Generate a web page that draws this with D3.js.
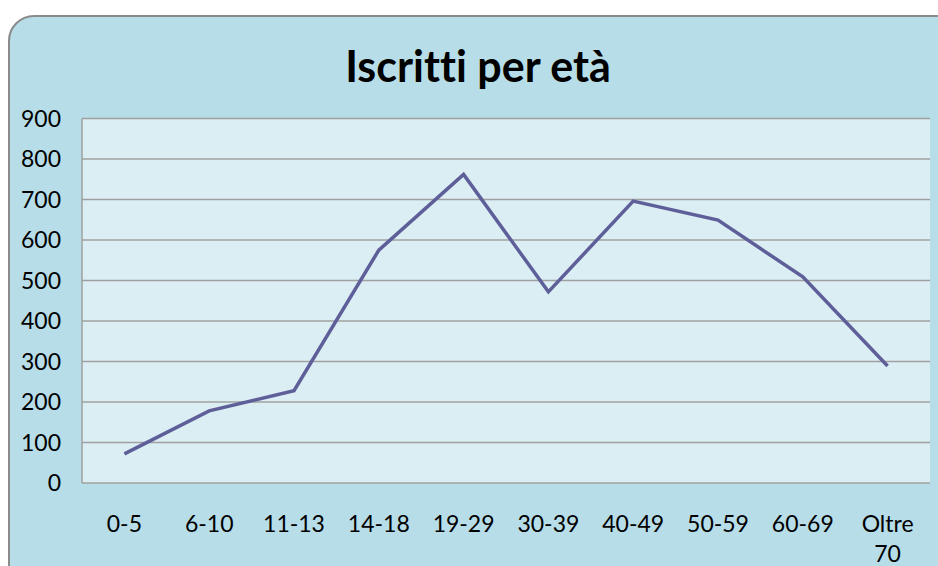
<!DOCTYPE html>
<html><head><meta charset="utf-8">
<script src="https://cdn.jsdelivr.net/npm/d3@7"></script>
<style>body{margin:0;background:#fff;}svg{display:block;}text{font-variant-ligatures:none;font-feature-settings:"liga" 0;}</style>
</head><body>
<script>
const categories = ["0-5","6-10","11-13","14-18","19-29","30-39","40-49","50-59","60-69","Oltre 70"];
const values = [72,178,228,575,762,472,696,649,509,289];
const yTicks = [0,100,200,300,400,500,600,700,800,900];
const title = "Iscritti per età";

const W = 938, H = 566;
const svg = d3.select("body").append("svg").attr("width", W).attr("height", H);
const font = "Lato, 'Open Sans', sans-serif";

svg.append("rect").attr("x", 9).attr("y", 16).attr("width", 960).attr("height", 580)
  .attr("rx", 25).attr("fill", "#b7dde8").attr("stroke", "#8a8a8a").attr("stroke-width", 2);

const m = {l: 82, r: 930, t: 118.5, b: 483};
const x = d3.scaleBand().domain(categories).range([m.l, m.r]);
const y = d3.scaleLinear().domain([0, 900]).range([m.b, m.t]);

svg.append("rect").attr("x", m.l).attr("y", m.t).attr("width", m.r - m.l).attr("height", m.b - m.t)
  .attr("fill", "#dbeef4");

svg.append("g").selectAll("line").data(yTicks).join("line")
  .attr("x1", m.l).attr("x2", m.r).attr("y1", d => y(d)).attr("y2", d => y(d))
  .attr("stroke", "#a0a0a0").attr("stroke-width", 1.5);
svg.append("line").attr("x1", m.l).attr("x2", m.l).attr("y1", m.t).attr("y2", m.b)
  .attr("stroke", "#a0a0a0").attr("stroke-width", 1.5);

svg.append("g").selectAll("text").data(yTicks).join("text")
  .attr("x", 61).attr("y", d => y(d)).attr("dy", "0.35em").attr("text-anchor", "end")
  .attr("font-family", font).attr("font-size", 23).attr("fill", "#000").text(d => d);

const xl = svg.append("g").selectAll("text").data(categories).join("text")
  .attr("x", d => x(d) + x.bandwidth() / 2).attr("y", 532).attr("text-anchor", "middle")
  .attr("font-family", font).attr("font-size", 23).attr("fill", "#000");
xl.each(function(d) {
  const parts = d.split(" ");
  const t = d3.select(this);
  parts.forEach((p, i) => t.append("tspan").attr("x", x(d) + x.bandwidth() / 2)
    .attr("dy", i === 0 ? 0 : 30).text(p));
});

const line = d3.line().x((d, i) => x(categories[i]) + x.bandwidth() / 2).y(d => y(d));
svg.append("path").datum(values).attr("d", line).attr("fill", "none")
  .attr("stroke", "#5e5e99").attr("stroke-width", 3.5).attr("stroke-linejoin", "miter");

svg.append("text").attr("x", 478).attr("y", 82).attr("text-anchor", "middle")
  .attr("font-family", font).attr("font-weight", "bold").attr("font-size", 43).attr("fill", "#000")
  .text(title);
</script>
</body></html>
